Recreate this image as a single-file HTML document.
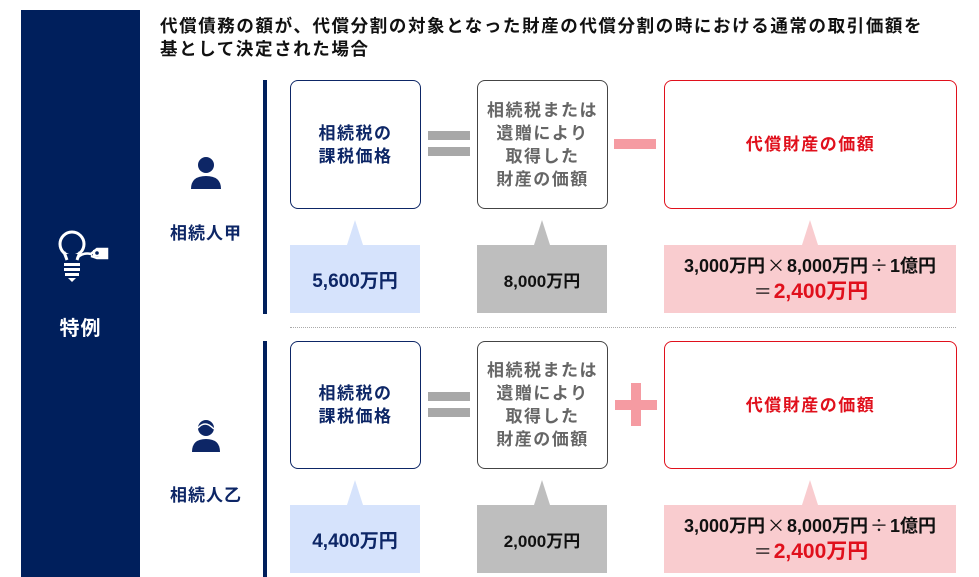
<!DOCTYPE html>
<html><head><meta charset="utf-8"><style>
*{margin:0;padding:0;box-sizing:border-box}
body{width:979px;height:577px;background:#fff;position:relative;overflow:hidden;font-family:"Liberation Sans","Noto Sans CJK JP",sans-serif;font-weight:bold}
.a{position:absolute}
.box{position:absolute;border-radius:8px;background:#fff;display:flex;align-items:center;justify-content:center;text-align:center;font-size:17px;letter-spacing:1.5px;line-height:23px}
.nb{border:1.5px solid #0d2666;color:#0d2666}
.gb{border:1.5px solid #444;color:#666}
.rb{border:1.5px solid #e0101c;color:#e0101c}
.call{position:absolute;display:flex;align-items:center;justify-content:center;text-align:center}
.tri{position:absolute;width:0;height:0;border-left:8px solid transparent;border-right:8px solid transparent}
.bar{position:absolute;background:#a8a8a8}
.pk{position:absolute;background:#f59ba2}
.op{font-family:"Noto Sans CJK JP",sans-serif;font-weight:normal;padding:0 2px}
</style></head><body>
<div class="a" style="left:21px;top:10px;width:119px;height:567px;background:#001f5c"></div>
<svg class="a" style="left:55px;top:228px" width="56" height="58" viewBox="0 0 56 58">
<circle cx="17" cy="16" r="12" fill="none" stroke="#fff" stroke-width="3"/>
<rect x="10" y="26" width="14" height="6" fill="#001f5c"/>
<path d="M9 24 L12 32 M25 24 L22 32" stroke="#fff" stroke-width="3" fill="none"/>
<rect x="9" y="35" width="16" height="3" fill="#fff"/>
<rect x="9" y="40" width="16" height="3" fill="#fff"/>
<rect x="10" y="45" width="14" height="3" fill="#fff"/>
<path d="M13 50 L21 50 L17 54 Z" fill="#fff"/>
<path d="M22 30 Q28 24 36 26 L42 21 L52 21 L52 30 L42 30 L36 28" fill="none" stroke="#fff" stroke-width="2.5"/>
<path d="M38 22 L52 20 L52 30 L38 28 Z" fill="#fff"/>
<circle cx="42" cy="25" r="1.8" fill="#001f5c"/>
</svg>
<div class="a" style="left:21px;width:119px;top:312px;text-align:center;color:#fff;font-size:20px;letter-spacing:1px">特例</div>

<div class="a" style="left:160px;top:15px;width:800px;font-size:17.5px;letter-spacing:1.6px;line-height:23px;color:#111">代償債務の額が、代償分割の対象となった財産の代償分割の時における通常の取引価額を<br>基として決定された場合</div>

<!-- row1 -->
<svg class="a" style="left:189px;top:156px" width="34" height="36" viewBox="0 0 34 36"><circle cx="17" cy="9" r="8" fill="#0d2666"/><path d="M2 33 Q2 20 17 20 Q32 20 32 33 Z" fill="#0d2666"/></svg>
<div class="a" style="left:160px;top:219px;width:92px;text-align:center;font-size:17px;color:#0d2666;letter-spacing:1px">相続人甲</div>
<div class="a" style="left:263px;top:80px;width:4px;height:234px;background:#001f5c"></div>

<div class="box nb" style="left:290px;top:80px;width:131px;height:129px">相続税の<br>課税価格</div>
<div class="bar" style="left:428px;top:131px;width:42px;height:9px"></div>
<div class="bar" style="left:428px;top:147px;width:42px;height:9px"></div>
<div class="box gb" style="left:477px;top:80px;width:131px;height:129px">相続税または<br>遺贈により<br>取得した<br>財産の価額</div>
<div class="pk" style="left:614px;top:139px;width:42px;height:10px"></div>
<div class="box rb" style="left:664px;top:80px;width:293px;height:129px">代償財産の価額</div>

<div class="tri" style="left:347px;top:220px;border-bottom:25px solid #d6e3fc"></div>
<div class="call" style="left:290px;top:245px;width:130px;height:68px;background:#d6e3fc;color:#0d2666;font-size:19px">5,600万円</div>
<div class="tri" style="left:534px;top:220px;border-bottom:25px solid #bebebe"></div>
<div class="call" style="left:477px;top:245px;width:130px;height:68px;background:#bebebe;color:#111;font-size:17px">8,000万円</div>
<div class="tri" style="left:802px;top:220px;border-bottom:25px solid #f9cccf"></div>
<div class="call" style="left:664px;top:245px;width:292px;height:68px;background:#f9cccf;color:#111;font-size:18px;line-height:25px"><div>3,000万円<span class="op">×</span>8,000万円<span class="op">÷</span>1億円<br><span class="op">＝</span><span style="color:#e0101c;font-size:21px">2,400万円</span></div></div>

<div class="a" style="left:290px;top:327px;width:666px;border-top:1px dotted #aaa"></div>

<!-- row2 -->
<svg class="a" style="left:189px;top:418px" width="34" height="36" viewBox="0 0 34 36"><circle cx="17" cy="10" r="8" fill="#0d2666"/><path d="M9 10 Q14 4 20 7 Q23 9 25 11" stroke="#fff" stroke-width="1.5" fill="none"/><path d="M3 34 Q3 21 17 21 Q31 21 31 34 Z" fill="#0d2666"/></svg>
<div class="a" style="left:160px;top:481px;width:92px;text-align:center;font-size:17px;color:#0d2666;letter-spacing:1px">相続人乙</div>
<div class="a" style="left:263px;top:341px;width:4px;height:236px;background:#001f5c"></div>

<div class="box nb" style="left:290px;top:341px;width:131px;height:128px">相続税の<br>課税価格</div>
<div class="bar" style="left:428px;top:392px;width:42px;height:9px"></div>
<div class="bar" style="left:428px;top:408px;width:42px;height:9px"></div>
<div class="box gb" style="left:477px;top:341px;width:131px;height:128px">相続税または<br>遺贈により<br>取得した<br>財産の価額</div>
<div class="pk" style="left:615px;top:400px;width:42px;height:10px"></div>
<div class="pk" style="left:631px;top:383px;width:10px;height:43px"></div>
<div class="box rb" style="left:664px;top:341px;width:293px;height:128px">代償財産の価額</div>

<div class="tri" style="left:347px;top:480px;border-bottom:25px solid #d6e3fc"></div>
<div class="call" style="left:290px;top:505px;width:130px;height:68px;background:#d6e3fc;color:#0d2666;font-size:19px">4,400万円</div>
<div class="tri" style="left:534px;top:480px;border-bottom:25px solid #bebebe"></div>
<div class="call" style="left:477px;top:505px;width:130px;height:68px;background:#bebebe;color:#111;font-size:17px">2,000万円</div>
<div class="tri" style="left:802px;top:480px;border-bottom:25px solid #f9cccf"></div>
<div class="call" style="left:664px;top:505px;width:292px;height:68px;background:#f9cccf;color:#111;font-size:18px;line-height:25px"><div>3,000万円<span class="op">×</span>8,000万円<span class="op">÷</span>1億円<br><span class="op">＝</span><span style="color:#e0101c;font-size:21px">2,400万円</span></div></div>
</body></html>
